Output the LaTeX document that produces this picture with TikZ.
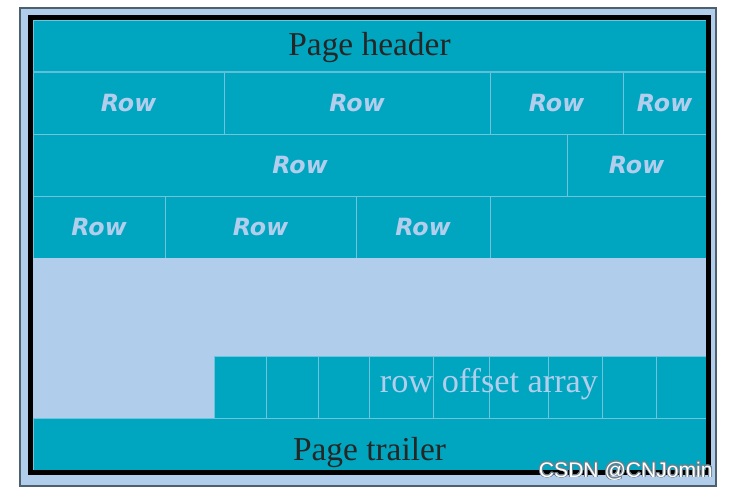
\documentclass[tikz,border=0pt]{standalone}
\usepackage{fontspec}
\setmainfont{Liberation Serif}
\newfontfamily\rowfamily{DejaVu Sans}
\newfontfamily\markfamily{Liberation Sans}
\usepackage{contour}
\contourlength{0.5pt}

\definecolor{pageteal}{RGB}{0,166,192}
\definecolor{pageblue}{RGB}{176,206,236}
\definecolor{cellline}{RGB}{110,196,220}
\definecolor{headline}{RGB}{95,190,216}
\definecolor{frameedge}{RGB}{78,96,110}
\definecolor{headtext}{RGB}{38,38,38}
\definecolor{rowtext}{RGB}{178,206,236}

\tikzset{
  cell/.style={draw=cellline, line width=0.5pt, fill=pageteal, rectangle, inner sep=0pt, outer sep=0pt, minimum height=1.24cm},
  rowlabel/.style={text=rowtext, font=\rowfamily\bfseries\itshape\fontsize{13.5}{16}\selectfont},
  pagelabel/.style={text=headtext, anchor=base, inner sep=0pt, font=\fontsize{19}{22}\selectfont},
}

\begin{document}
\begin{tikzpicture}[x=0.02cm, y=-0.02cm]
        \useasboundingbox (0,0) rectangle (729,492);
        \fill[pageblue, draw=frameedge, line width=0.8pt] (20,8) rectangle (716,486);

        \node[cell, minimum width=13.46cm, minimum height=1.04cm] (header) at (369.5,46) {};
        \node[pagelabel] (headertext) at (369.5,56) {Page header};

        \node[cell, rowlabel, minimum width=3.82cm] (r1a) at (128.5,103) {Row};
        \node[cell, rowlabel, minimum width=5.32cm] (r1b) at (357,103) {Row};
        \node[cell, rowlabel, minimum width=2.66cm] (r1c) at (556.5,103) {Row};
        \node[cell, rowlabel, minimum width=1.66cm] (r1d) at (664.5,103) {Row};
        \draw[headline, line width=0.5mm] (header.south west) -- (header.south east);

        \node[cell, rowlabel, minimum width=10.68cm] (r2a) at (300,165) {Row};
        \node[cell, rowlabel, minimum width=2.78cm] (r2b) at (636.5,165) {Row};

        \node[cell, rowlabel, minimum width=2.64cm] (r3a) at (99,227) {Row};
        \node[cell, rowlabel, minimum width=3.82cm] (r3b) at (260.5,227) {Row};
        \node[cell, rowlabel, minimum width=2.68cm] (r3c) at (423,227) {Row};
        \node[cell, minimum width=4.32cm] (r3d) at (598,227) {};

        \fill[pageblue] (33,258.5) rectangle (706,418);

        \foreach \a/\b [count=\i] in {214/266,266/318,318/369,369/433,433/489,489/548,548/602,602/656,656/706}
            \node[cell, minimum width={(\b-\a)*0.02cm}] (off\i) at ({(\a+\b)/2},387) {};
        \node[pagelabel, text=rowtext, font=\fontsize{19.5}{22}\selectfont] (offtext) at (489,393) {row offset array};

        \node[cell, minimum width=13.46cm, minimum height=1.04cm] (trailer) at (369.5,444) {};
        \node[pagelabel] (trailertext) at (369.5,460) {Page trailer};

        \draw[black, line width=1mm] (30.5,17.5) rectangle (708.5,472.5);

        \node[anchor=base east, inner sep=0pt, text=white, font=\markfamily\fontsize{12}{14}\selectfont] (mark) at (713,477) {\contour{frameedge!80}{CSDN @CNJomin}};
\end{tikzpicture}
\end{document}
